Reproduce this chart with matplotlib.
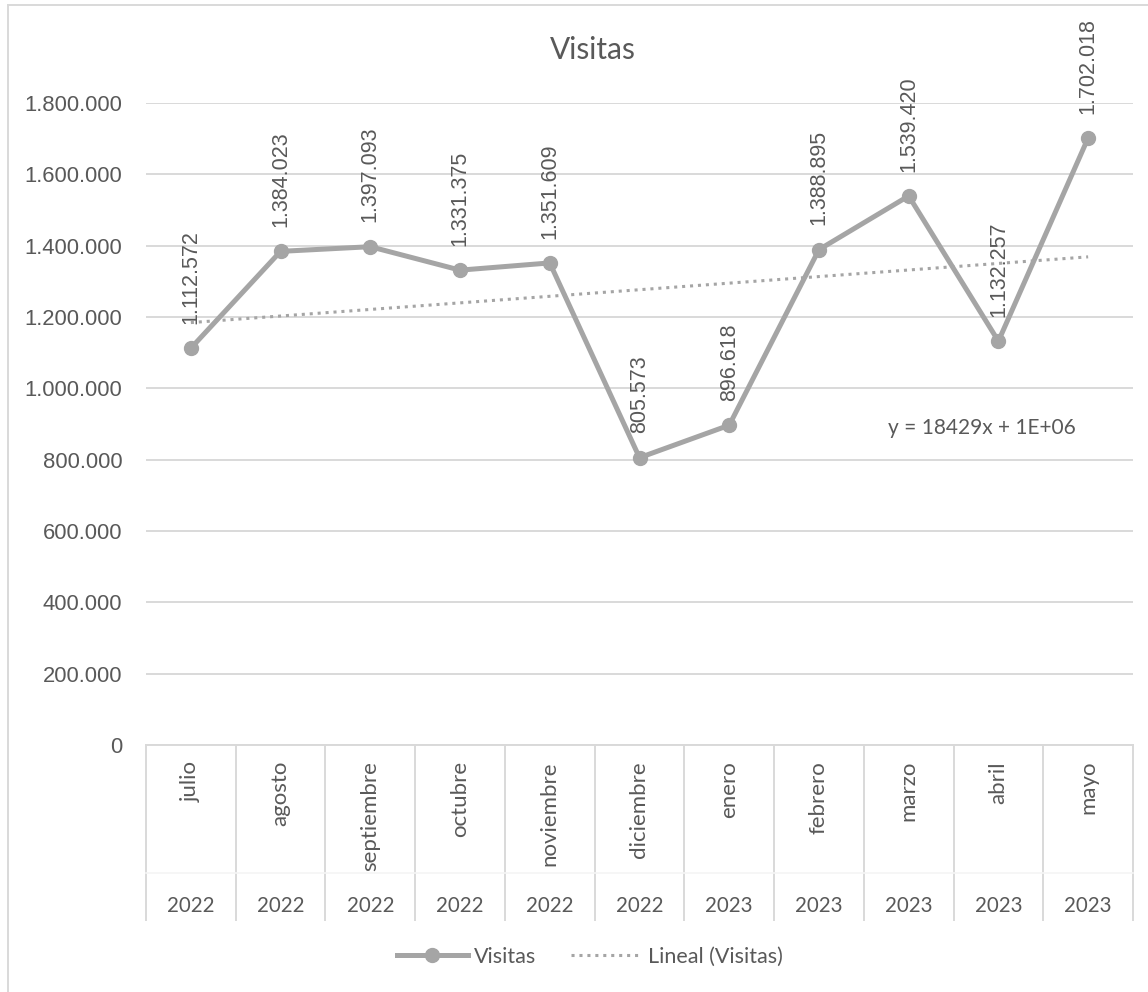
import numpy as np
import matplotlib
matplotlib.use("Agg")
from matplotlib import pyplot as plt
from matplotlib.lines import Line2D

# data
meses = ["julio", "agosto", "septiembre", "octubre", "noviembre", "diciembre",
         "enero", "febrero", "marzo", "abril", "mayo"]
anios = ["2022", "2022", "2022", "2022", "2022", "2022",
         "2023", "2023", "2023", "2023", "2023"]
visitas = [1112572, 1384023, 1397093, 1331375, 1351609, 805573,
           896618, 1388895, 1539420, 1132257, 1702018]
y_ticks = [0, 200000, 400000, 600000, 800000, 1000000, 1200000, 1400000, 1600000, 1800000]

GRIS = "#A5A5A5"
TEXTO = "#595959"
REJILLA = "#D9D9D9"


def miles(v):
    # formato con punto de miles
    return f"{int(v):,}".replace(",", ".")


fig = plt.figure(figsize=(11.48, 9.92), dpi=100)
ax = fig.add_axes([146 / 1148, 1 - 745 / 992, (1133 - 146) / 1148, (745 - 103) / 992])

x = np.arange(len(visitas))

# linea de tendencia (Excel usa x = 1..n)
pend, orden = np.polyfit(x + 1, visitas, 1)
ax.plot(x, pend * (x + 1) + orden, color=GRIS, lw=2.2, ls=(0, (1, 1.6)), zorder=2)

ax.plot(x, visitas, color=GRIS, lw=3.6, marker="o", markersize=10, zorder=3)

for xi, v in zip(x, visitas):
    ax.annotate(miles(v), (xi, v), xytext=(0, 17.5), textcoords="offset points",
                rotation=90, ha="center", va="bottom", fontsize=15.5,
                color=TEXTO, family="Liberation Sans")

ax.text(7.77, 890000, f"y = {pend:.0f}x + 1E+06", fontsize=15, color=TEXTO,
        family="Lato", va="center", ha="left")

ax.set_xlim(-0.5, len(visitas) - 0.5)
ax.set_ylim(0, 1800000)
ax.set_yticks(y_ticks)
ax.set_yticklabels([miles(t) for t in y_ticks], fontsize=15.8, color=TEXTO,
                   family="Liberation Sans")
ax.tick_params(axis="y", length=0, pad=17)
ax.set_xticks([])
ax.grid(axis="y", color=REJILLA, lw=1.4)
ax.set_axisbelow(True)
for s in ["top", "right", "left"]:
    ax.spines[s].set_visible(False)
ax.spines["bottom"].set_color(REJILLA)
ax.spines["bottom"].set_linewidth(1.4)

# eje de categorias en dos niveles
h = 642.0
tr = ax.get_xaxis_transform()
for xi, (m, a) in enumerate(zip(meses, anios)):
    ax.text(xi, -16 / h, m, rotation=90, ha="center", va="top", fontsize=16,
            color=TEXTO, family="Lato", transform=tr)
    ax.text(xi, -161 / h, a, ha="center", va="center", fontsize=14.8,
            color=TEXTO, family="Lato", transform=tr)
for xb in np.arange(-0.5, len(visitas), 1.0):
    ax.plot([xb, xb], [0, -175 / h], color=REJILLA, lw=1.4, transform=tr, clip_on=False)
ax.plot([-0.5, len(visitas) - 0.5], [-128 / h, -128 / h], color="#F5F5F5", lw=1.2,
        transform=tr, clip_on=False)

fig.text(593 / 1148, 1 - 50 / 992, "Visitas", ha="center", va="center",
         fontsize=21.5, color=TEXTO, family="Lato")

# marco del grafico
fig.add_artist(Line2D([8 / 1148, 1], [1 - 5 / 992, 1 - 5 / 992], color=REJILLA, lw=1.4))
fig.add_artist(Line2D([8 / 1148, 8 / 1148], [0, 1 - 5 / 992], color=REJILLA, lw=1.4))

handles = [
    Line2D([], [], color=GRIS, lw=3.6, marker="o", markersize=10),
    Line2D([], [], color=GRIS, lw=2.2, ls=(0, (1, 1.6))),
]
fig.legend(handles, ["Visitas", "Lineal (Visitas)"], loc="center",
           bbox_to_anchor=(590 / 1148, 1 - 957 / 992), ncol=2, frameon=False,
           prop={"family": "Lato", "size": 15.5}, labelcolor=TEXTO,
           handlelength=3.3, handletextpad=0.3, columnspacing=1.6)

fig.savefig("out.png", dpi=100, facecolor="white")
